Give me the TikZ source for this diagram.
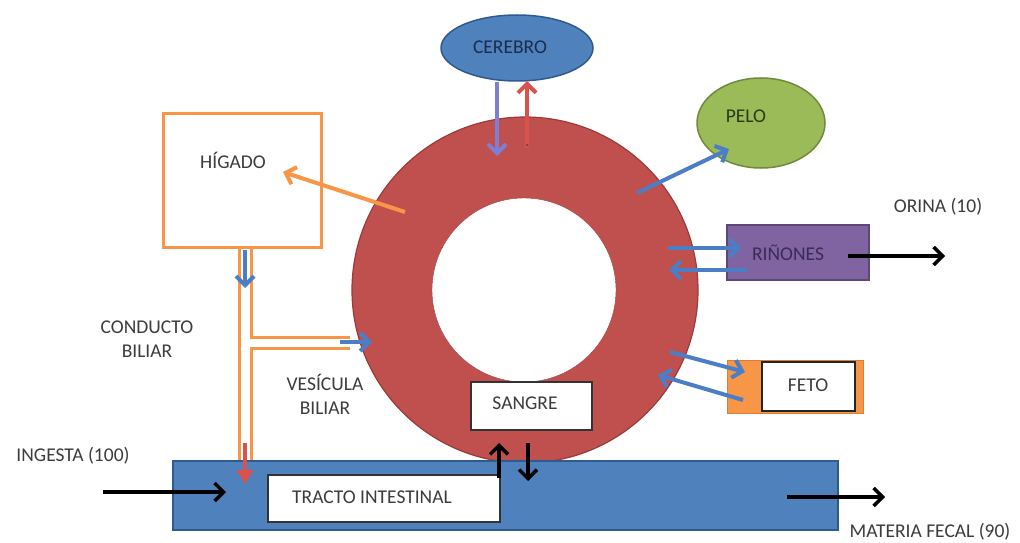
\documentclass[tikz,border=0pt]{standalone}
\usepackage{fontspec}
\setmainfont{Carlito}
\usetikzlibrary{arrows.meta,shapes.geometric}
\definecolor{ringred}{HTML}{C0504D}
\definecolor{ringedge}{HTML}{9A3B38}
\definecolor{cblue}{HTML}{4F81BD}
\definecolor{cblueedge}{HTML}{2F5A8E}
\definecolor{cgreen}{HTML}{9BBB59}
\definecolor{cgreenedge}{HTML}{71893F}
\definecolor{cpurple}{HTML}{8064A2}
\definecolor{cpurpleedge}{HTML}{5C4776}
\definecolor{corange}{HTML}{F79646}
\definecolor{arrblue}{HTML}{4A7EC6}
\definecolor{arrpurple}{HTML}{7E7ED2}
\definecolor{arrred}{HTML}{D9534E}
\definecolor{txt}{HTML}{3C3C3C}
\definecolor{navytxt}{HTML}{1C2C4C}
\definecolor{greentxt}{HTML}{2C3A14}
\definecolor{purpletxt}{HTML}{3A2A55}
\begin{document}
\begin{tikzpicture}[x=1pt,y=-1pt,
  font=\fontsize{19.5}{24}\selectfont, text=txt,
  box/.style={draw, rectangle, inner sep=0pt},
  lbl/.style={inner sep=0pt, align=center},
  barrow/.style={draw=arrblue, line width=4pt, -{Straight Barb[length=9pt,width=18pt]}},
  karrow/.style={draw=black, line width=3.5pt, -{Straight Barb[length=9pt,width=18pt]}},
  oline/.style={draw=corange, line width=3pt},
]
\path[use as bounding box, fill=white] (0,0) rectangle (1020,543);

% ring (blood)
\node[circle, minimum size=346pt, inner sep=0pt, fill=ringred, draw=ringedge, line width=1.2pt] (ring) at (525,290) {};
\node[circle, minimum size=184pt, inner sep=0pt, fill=white, draw=ringred!80!black, line width=0.4pt] (hole) at (524,290) {};

% cerebro
\node[ellipse, minimum width=152pt, minimum height=66pt, inner sep=0pt, fill=cblue, draw=cblueedge, line width=1.5pt] (cerebro) at (517,48) {};
\node[lbl, text=navytxt] (cerebrotxt) at (510,47) {CEREBRO};
\coordinate (cb1) at (497,82);
\coordinate (cb2) at (497,156);
\coordinate (cr1) at (527,148);
\coordinate (cr2) at (527,81);
\draw[barrow, draw=arrpurple] (cb1) -- (cb2);
\draw[barrow, draw=arrred] (cr1) -- (cr2);
\fill[arrred!70!black] (527,145) circle (1.5pt);

% pelo
\node[ellipse, minimum width=128pt, minimum height=90pt, inner sep=0pt, fill=cgreen, draw=cgreenedge, line width=1.5pt] (pelo) at (761,123) {};
\node[lbl, text=greentxt] (pelotxt) at (746,116) {PELO};
\coordinate (p1) at (637,193);
\coordinate (p2) at (729,149);
\draw[barrow] (p1) -- (p2);

% higado
\node[box, draw=corange, line width=3pt, fill=white, minimum width=158pt, minimum height=134pt] (higado) at (242,180) {};
\node[lbl] (higtxt) at (233,160) {HÍGADO};
\coordinate (h1) at (405,212);
\coordinate (h2) at (283,172);
\draw[draw=corange, line width=4pt, -{Straight Barb[length=9pt,width=18pt]}] (h1) -- (h2);

% conducto biliar
\draw[oline] (239,247) -- (239,463);
\draw[oline] (251,247) -- (251,337) -- (350,337);
\draw[oline] (350,348) -- (251,348) -- (251,463);
\coordinate (c1) at (245,250);
\coordinate (c2) at (245,288);
\draw[barrow] (c1) -- (c2);
\coordinate (v1) at (340,342);
\coordinate (v2) at (372,342);
\draw[barrow] (v1) -- (v2);
\node[lbl] (conducto) at (147,339) {CONDUCTO\\BILIAR};
\node[lbl] (vesicula) at (325,394) {VESÍCULA\\BILIAR};

% intestine
\node[box, fill=cblue, draw=cblueedge, line width=1.5pt, minimum width=665pt, minimum height=69pt] (tracto) at (505.5,495.5) {};
\node[box, fill=white, draw=black!80, line width=1.2pt, minimum width=232pt, minimum height=47pt] (tractobox) at (384,498.5) {};
\node[lbl] (tractotxt) at (372,497) {TRACTO INTESTINAL};
\coordinate (r1) at (245,443);
\coordinate (r2) at (245,484);
\draw[draw=arrred, line width=4pt, -{Triangle[length=14pt,width=16pt]}] (r1) -- (r2);

% sangre
\node[box, fill=white, draw=black!80, line width=1.2pt, minimum width=121pt, minimum height=48pt] (sangre) at (531.5,406) {};
\node[lbl] (sangretxt) at (525,403) {SANGRE};
\coordinate (s1) at (499,478);
\coordinate (s2) at (499,443);
\coordinate (s3) at (528,443);
\coordinate (s4) at (528,481);
\draw[karrow] (s1) -- (s2);
\draw[karrow] (s3) -- (s4);

% ingesta
\node[lbl] (ingesta) at (73,456) {INGESTA (100)};
\coordinate (i1) at (103,492);
\coordinate (i2) at (226,492);
\draw[karrow] (i1) -- (i2);

% materia fecal
\node[lbl] (fecal) at (930,532) {MATERIA FECAL (90)};
\coordinate (f1) at (787,497);
\coordinate (f2) at (885,497);
\draw[karrow] (f1) -- (f2);

% rinones
\node[box, fill=cpurple, draw=cpurpleedge, line width=1.5pt, minimum width=142pt, minimum height=55pt] (rinones) at (798,252.5) {};
\node[lbl, text=purpletxt] (rintxt) at (788,253) {RIÑONES};
\coordinate (k1) at (668,248);
\coordinate (k2) at (741,248);
\coordinate (k3) at (747,270);
\coordinate (k4) at (669,270);
\draw[barrow] (k1) -- (k2);
\draw[barrow] (k3) -- (k4);
\coordinate (o1) at (848,256);
\coordinate (o2) at (945,256);
\draw[karrow] (o1) -- (o2);
\node[lbl] (orina) at (938,207) {ORINA (10)};

% feto
\node[box, fill=corange, draw=corange!85!black, line width=1pt, minimum width=136pt, minimum height=53pt] (feto) at (795,386.5) {};
\node[box, fill=white, draw=black!85, line width=1.2pt, minimum width=93pt, minimum height=49pt] (fetobox) at (808.5,386.5) {};
\node[lbl] (fetotxt) at (808,385) {FETO};
\coordinate (e1) at (670,352);
\coordinate (e2) at (745,372);
\coordinate (e3) at (743,400);
\coordinate (e4) at (658,375);
\draw[barrow] (e1) -- (e2);
\draw[barrow] (e3) -- (e4);
\end{tikzpicture}
\end{document}
